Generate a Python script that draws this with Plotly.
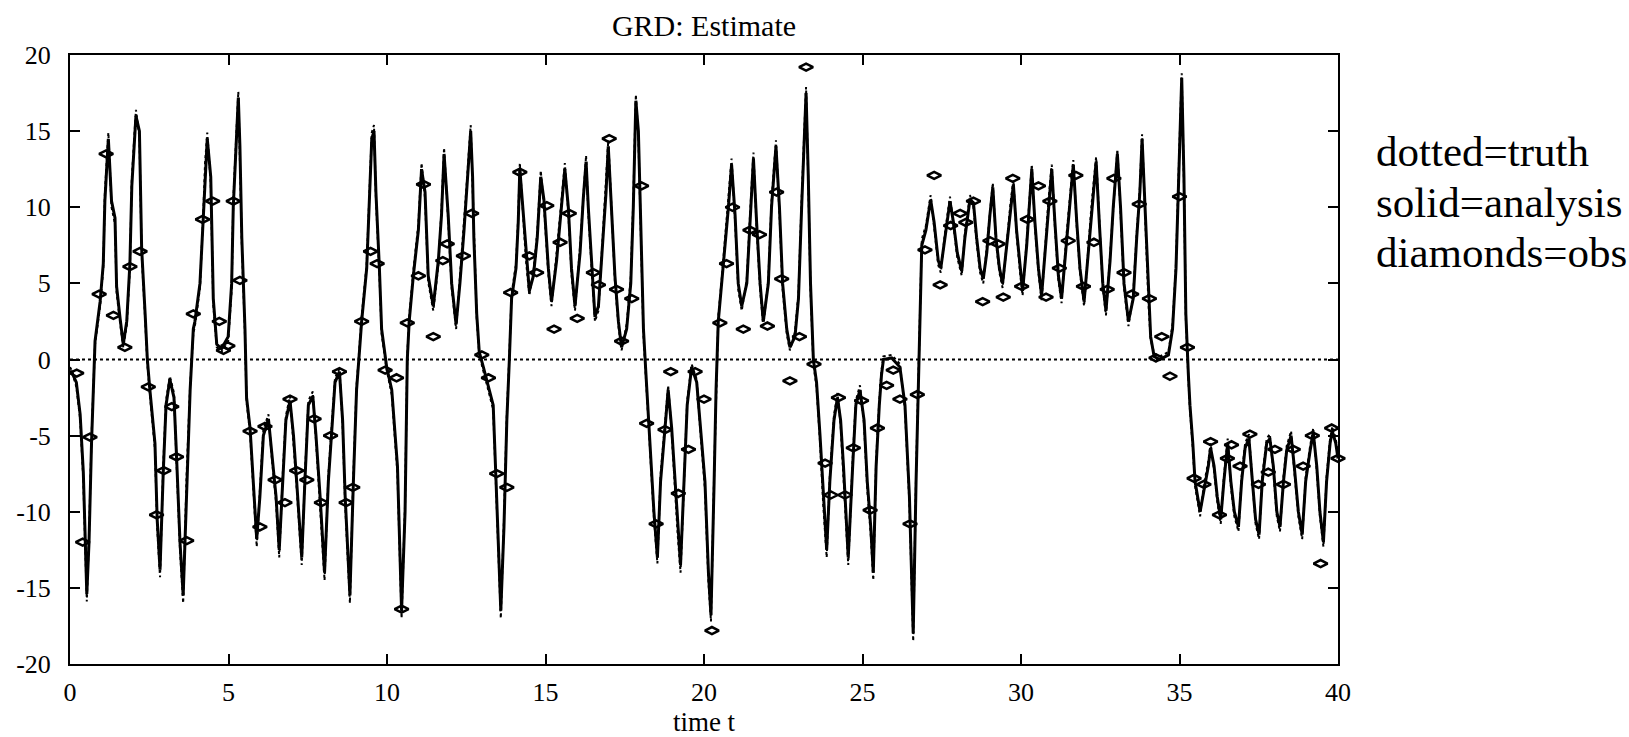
import plotly.graph_objects as go

# Time grid of the analysis / truth trajectories (x-component)
time_t = [
    0.00, 0.05, 0.20, 0.32, 0.42, 0.47, 0.53, 0.60, 0.68, 0.79,
    0.95, 1.05, 1.10, 1.21, 1.31, 1.42, 1.47, 1.58, 1.68, 1.79,
    1.89, 1.95, 2.08, 2.19, 2.26, 2.37, 2.44, 2.52, 2.68, 2.75,
    2.84, 2.94, 3.03, 3.15, 3.28, 3.36, 3.47, 3.57, 3.68, 3.79,
    3.89, 3.94, 4.10, 4.21, 4.26, 4.33, 4.44, 4.52, 4.63, 4.78,
    4.99, 5.10, 5.15, 5.31, 5.36, 5.42, 5.52, 5.57, 5.68, 5.78,
    5.89, 5.99, 6.10, 6.26, 6.36, 6.50, 6.60, 6.71, 6.81, 6.94,
    7.05, 7.15, 7.31, 7.41, 7.52, 7.66, 7.76, 7.89, 8.03, 8.15,
    8.25, 8.36, 8.50, 8.60, 8.68, 8.83, 8.94, 9.04, 9.13, 9.20,
    9.36, 9.44, 9.52, 9.59, 9.65, 9.76, 9.83, 9.99, 10.15, 10.33,
    10.41, 10.46, 10.57, 10.64, 10.70, 10.83, 10.99, 11.09, 11.20, 11.30,
    11.46, 11.62, 11.72, 11.80, 11.93, 12.04, 12.18, 12.30, 12.43, 12.51,
    12.64, 12.70, 12.74, 12.83, 12.91, 13.04, 13.23, 13.35, 13.44, 13.51,
    13.59, 13.69, 13.78, 13.86, 13.93, 14.07, 14.14, 14.19, 14.28, 14.38,
    14.49, 14.62, 14.74, 14.85, 14.95, 15.09, 15.19, 15.35, 15.48, 15.61,
    15.72, 15.82, 15.93, 16.09, 16.19, 16.28, 16.35, 16.46, 16.56, 16.67,
    16.80, 16.91, 16.98, 17.09, 17.19, 17.30, 17.40, 17.56, 17.69, 17.77,
    17.85, 17.93, 18.00, 18.09, 18.17, 18.24, 18.32, 18.42, 18.53, 18.63,
    18.77, 18.87, 18.98, 19.08, 19.17, 19.26, 19.37, 19.47, 19.61, 19.77,
    19.87, 20.03, 20.14, 20.22, 20.32, 20.38, 20.45, 20.56, 20.66, 20.77,
    20.87, 20.98, 21.08, 21.19, 21.35, 21.45, 21.56, 21.66, 21.77, 21.87,
    22.03, 22.13, 22.27, 22.38, 22.48, 22.61, 22.71, 22.87, 22.98, 23.08,
    23.22, 23.29, 23.36, 23.45, 23.55, 23.66, 23.76, 23.87, 23.97, 24.10,
    24.21, 24.31, 24.40, 24.55, 24.69, 24.79, 24.92, 25.05, 25.15, 25.26,
    25.34, 25.43, 25.53, 25.60, 25.66, 25.92, 26.18, 26.34, 26.48, 26.55,
    26.60, 26.69, 26.76, 26.81, 26.87, 27.00, 27.15, 27.26, 27.39, 27.47,
    27.60, 27.76, 27.87, 27.99, 28.13, 28.23, 28.39, 28.50, 28.60, 28.71,
    28.81, 28.92, 29.02, 29.11, 29.21, 29.32, 29.42, 29.55, 29.67, 29.76,
    29.86, 29.97, 30.05, 30.18, 30.26, 30.34, 30.44, 30.55, 30.65, 30.76,
    30.86, 30.97, 31.07, 31.18, 31.28, 31.42, 31.52, 31.65, 31.76, 31.86,
    31.99, 32.12, 32.23, 32.37, 32.47, 32.58, 32.68, 32.81, 32.91, 33.04,
    33.14, 33.25, 33.39, 33.54, 33.65, 33.75, 33.82, 33.91, 34.02, 34.09,
    34.20, 34.38, 34.65, 34.78, 34.89, 34.96, 35.07, 35.14, 35.20, 35.28,
    35.33, 35.42, 35.49, 35.65, 35.77, 35.91, 35.98, 36.09, 36.19, 36.30,
    36.40, 36.52, 36.62, 36.73, 36.86, 36.96, 37.07, 37.19, 37.30, 37.40,
    37.51, 37.61, 37.75, 37.85, 37.96, 38.07, 38.17, 38.28, 38.38, 38.52,
    38.62, 38.75, 38.87, 38.98, 39.12, 39.22, 39.33, 39.43, 39.54, 39.64,
    39.75, 39.82, 39.93, 40.00,
]

# Analysis estimate (solid)
analysis_x = [
    -0.8, -0.8, -1.5, -3.6, -7.4, -11.7, -15.4, -12.0, -5.4, 1.2,
    3.8, 6.3, 10.4, 14.5, 10.4, 9.3, 4.8, 2.7, 1.0, 2.5,
    6.3, 11.4, 16.0, 15.0, 7.3, 3.0, 0.0, -2.0, -5.5, -10.5,
    -13.8, -7.5, -3.0, -1.3, -2.5, -6.3, -12.0, -15.5, -8.0, -2.0,
    2.0, 2.5, 5.0, 9.5, 12.5, 14.5, 12.0, 4.0, 1.0, 0.7,
    1.5, 5.0, 10.0, 17.2, 14.0, 8.0, 2.0, -2.5, -4.5, -8.0,
    -11.8, -9.0, -5.0, -3.9, -6.0, -9.0, -12.5, -8.0, -4.0, -2.7,
    -5.0, -8.0, -13.0, -8.0, -3.0, -2.4, -5.0, -9.0, -14.0, -8.0,
    -5.0, -1.5, -0.8, -4.0, -9.0, -15.5, -8.0, -2.0, 0.5, 2.5,
    6.0, 10.0, 14.5, 15.0, 11.0, 6.0, 2.0, -0.5, -2.0, -7.0,
    -12.0, -16.5, -10.0, 0.0, 2.5, 5.5, 8.5, 12.5, 11.0, 5.5,
    3.5, 6.5, 9.5, 13.5, 9.5, 5.0, 2.3, 5.0, 8.5, 11.0,
    15.0, 12.0, 8.0, 3.0, 0.5, -0.5, -2.0, -3.0, -8.0, -12.0,
    -16.5, -11.0, -4.0, 0.0, 4.0, 6.0, 9.0, 12.5, 10.0, 7.0,
    4.5, 5.5, 8.0, 12.0, 10.5, 6.0, 3.8, 6.5, 9.5, 12.5,
    10.0, 6.0, 3.5, 7.0, 10.5, 13.0, 10.0, 6.0, 2.8, 3.5,
    7.5, 11.0, 14.0, 10.0, 5.5, 2.5, 0.8, 2.0, 5.0, 10.0,
    17.0, 15.0, 9.0, 2.0, -1.0, -3.5, -7.0, -10.0, -13.0, -8.0,
    -4.5, -2.0, -4.5, -8.0, -11.0, -13.5, -8.0, -3.0, -0.5, -1.5,
    -4.0, -8.0, -14.0, -16.8, -8.0, -2.0, 2.5, 5.0, 7.5, 10.0,
    12.8, 9.5, 5.0, 3.5, 5.0, 9.0, 13.2, 9.0, 5.0, 2.5,
    5.0, 10.0, 14.0, 10.0, 5.0, 2.0, 0.8, 1.5, 4.0, 10.0,
    17.5, 12.0, 5.0, 0.0, -1.5, -5.0, -9.0, -12.5, -8.0, -4.0,
    -2.5, -4.0, -7.0, -13.0, -7.0, -3.0, -2.0, -4.0, -8.0, -11.0,
    -14.0, -7.0, -3.0, -1.0, 0.0, 0.1, -0.5, -3.0, -9.0, -14.0,
    -18.0, -8.0, -2.0, 2.0, 7.5, 8.5, 10.5, 9.0, 6.5, 6.0,
    8.0, 10.4, 9.0, 7.0, 5.8, 8.0, 10.5, 10.3, 8.0, 6.0,
    5.3, 7.0, 9.5, 11.3, 8.0, 6.0, 5.0, 7.5, 10.0, 11.5,
    8.5, 6.0, 4.5, 7.5, 10.0, 12.5, 9.0, 6.0, 4.2, 7.0,
    10.0, 12.5, 9.0, 5.5, 4.0, 7.5, 10.0, 12.8, 9.0, 6.0,
    3.8, 7.0, 10.0, 13.0, 9.0, 5.0, 3.2, 6.5, 10.0, 13.5,
    10.0, 5.0, 2.5, 4.0, 8.0, 11.0, 14.5, 10.0, 4.0, 1.5,
    0.2, 0.0, 0.3, 2.0, 6.0, 11.0, 18.5, 12.0, 3.0, -1.0,
    -3.0, -5.5, -8.0, -10.0, -8.5, -7.0, -5.8, -7.0, -9.0, -10.5,
    -8.0, -5.5, -8.0, -10.0, -11.0, -8.0, -5.8, -5.2, -8.0, -10.5,
    -11.5, -8.0, -5.5, -5.2, -7.0, -10.0, -11.0, -8.0, -6.0, -5.0,
    -7.0, -10.0, -11.5, -8.0, -6.0, -4.8, -7.0, -10.0, -12.0, -8.0,
    -5.5, -4.7, -5.5, -6.5,
]

# True trajectory (dotted)
truth_x = [
    -0.5, -0.7, -1.8, -3.9, -7.9, -12.3, -15.9, -11.6, -5.0, 1.0,
    3.5, 6.0, 10.9, 14.9, 10.0, 8.9, 4.4, 2.4, 0.8, 2.2,
    6.0, 11.9, 16.4, 14.6, 6.9, 2.7, -0.3, -2.3, -5.9, -11.0,
    -14.3, -7.0, -2.7, -1.1, -2.2, -6.7, -12.5, -16.0, -7.5, -1.7,
    1.7, 2.2, 4.7, 9.9, 12.9, 14.9, 11.6, 3.6, 0.8, 0.5,
    1.2, 4.6, 10.4, 17.6, 13.6, 7.6, 1.6, -2.8, -4.8, -8.4,
    -12.3, -8.6, -4.6, -3.6, -6.3, -9.4, -13.0, -7.6, -3.7, -2.4,
    -5.3, -8.4, -13.5, -7.6, -2.7, -2.1, -5.3, -9.4, -14.5, -7.6,
    -4.7, -1.2, -0.6, -4.3, -9.5, -16.0, -7.5, -1.7, 0.8, 2.8,
    6.3, 10.4, 14.9, 15.4, 10.6, 5.6, 1.7, -0.7, -2.3, -7.5,
    -12.5, -17.0, -9.5, 0.3, 2.8, 5.8, 8.9, 12.9, 10.6, 5.1,
    3.2, 6.2, 9.9, 13.9, 9.1, 4.7, 2.0, 5.3, 8.9, 11.4,
    15.4, 11.6, 7.6, 2.7, 0.3, -0.7, -2.3, -3.3, -8.5, -12.5,
    -17.0, -10.5, -3.6, 0.3, 4.3, 6.3, 9.4, 12.9, 9.6, 6.6,
    4.2, 5.8, 8.4, 12.4, 10.1, 5.6, 3.5, 6.8, 9.9, 12.9,
    9.6, 5.6, 3.2, 7.4, 10.9, 13.4, 9.6, 5.6, 2.5, 3.2,
    7.9, 11.4, 14.4, 9.6, 5.1, 2.2, 0.6, 2.3, 5.4, 10.5,
    17.4, 14.6, 8.6, 1.6, -1.3, -3.8, -7.4, -10.4, -13.4, -7.6,
    -4.2, -1.7, -4.8, -8.4, -11.5, -14.0, -7.6, -2.7, -0.3, -1.3,
    -4.3, -8.5, -14.6, -17.2, -7.5, -1.7, 2.8, 5.3, 7.9, 10.4,
    13.2, 9.1, 4.6, 3.2, 5.3, 9.4, 13.6, 8.6, 4.6, 2.2,
    5.3, 10.4, 14.4, 9.6, 4.6, 1.7, 0.6, 1.8, 4.4, 10.5,
    17.9, 11.6, 4.6, -0.3, -1.8, -5.4, -9.5, -13.0, -7.6, -3.7,
    -2.2, -4.3, -7.5, -13.5, -6.6, -2.7, -1.7, -4.3, -8.5, -11.5,
    -14.5, -6.6, -2.7, -0.7, 0.2, 0.3, -0.3, -3.3, -9.5, -14.6,
    -18.5, -7.5, -1.6, 2.4, 7.9, 8.8, 10.8, 8.7, 6.2, 5.7,
    8.3, 10.7, 8.7, 6.7, 5.5, 8.3, 10.8, 10.0, 7.7, 5.7,
    5.0, 7.3, 9.8, 11.6, 7.7, 5.7, 4.7, 7.8, 10.3, 11.8,
    8.2, 5.7, 4.2, 7.8, 10.3, 12.8, 8.7, 5.7, 3.9, 7.3,
    10.3, 12.8, 8.7, 5.2, 3.7, 7.8, 10.3, 13.1, 8.7, 5.7,
    3.5, 7.3, 10.3, 13.3, 8.7, 4.7, 2.9, 6.8, 10.3, 13.8,
    9.7, 4.7, 2.2, 4.3, 8.3, 11.3, 14.8, 9.7, 3.7, 1.3,
    0.4, 0.2, 0.5, 2.3, 6.3, 11.4, 18.8, 11.6, 2.7, -1.3,
    -3.3, -5.8, -8.3, -10.3, -8.2, -6.7, -5.5, -7.3, -9.3, -10.8,
    -7.7, -5.2, -8.3, -10.3, -11.3, -7.7, -5.5, -4.9, -8.3, -10.8,
    -11.8, -7.7, -5.2, -4.9, -7.3, -10.3, -11.3, -7.7, -5.7, -4.7,
    -7.3, -10.3, -11.8, -7.7, -5.7, -4.5, -7.3, -10.3, -12.3, -7.7,
    -5.2, -4.4, -5.2, -6.3,
]

# Noisy observations (diamonds)
obs_t = [
    0.21, 0.40, 0.63, 0.92, 1.14, 1.37, 1.73, 1.89, 2.21, 2.47,
    2.73, 2.96, 3.21, 3.36, 3.68, 3.89, 4.18, 4.50, 4.71, 4.84,
    4.98, 5.15, 5.36, 5.68, 5.99, 6.15, 6.47, 6.78, 6.94, 7.15,
    7.47, 7.70, 7.93, 8.22, 8.50, 8.71, 8.92, 9.20, 9.48, 9.69,
    9.94, 10.30, 10.46, 10.64, 10.99, 11.15, 11.46, 11.76, 11.90, 12.41,
    12.67, 12.99, 13.20, 13.46, 13.78, 13.90, 14.19, 14.49, 14.72, 15.04,
    15.27, 15.46, 15.75, 16.00, 16.51, 16.67, 17.01, 17.24, 17.40, 17.72,
    18.03, 18.19, 18.49, 18.77, 18.95, 19.19, 19.51, 19.72, 20.00, 20.25,
    20.50, 20.71, 20.90, 21.24, 21.45, 21.75, 22.00, 22.29, 22.45, 22.71,
    23.01, 23.22, 23.47, 23.82, 24.00, 24.24, 24.45, 24.71, 24.97, 25.24,
    25.47, 25.76, 25.97, 26.18, 26.50, 26.73, 26.97, 27.26, 27.45, 27.78,
    28.08, 28.26, 28.50, 28.79, 29.02, 29.28, 29.44, 29.74, 30.02, 30.20,
    30.55, 30.79, 30.91, 31.21, 31.49, 31.73, 31.97, 32.30, 32.72, 32.93,
    33.25, 33.49, 33.73, 34.05, 34.26, 34.44, 34.70, 35.00, 35.25, 35.46,
    35.77, 35.98, 36.26, 36.51, 36.64, 36.91, 37.22, 37.49, 37.80, 38.01,
    38.28, 38.59, 38.90, 39.19, 39.45, 39.80, 40.00,
]
obs_x = [
    -0.9, -12.0, -5.1, 4.3, 13.5, 2.9, 0.8, 6.1, 7.1, -1.8,
    -10.2, -7.3, -3.1, -6.4, -11.9, 3.0, 9.2, 10.4, 2.5, 0.6,
    0.9, 10.4, 5.2, -4.7, -11.0, -4.4, -7.9, -9.4, -2.6, -7.3,
    -7.9, -3.9, -9.4, -5.0, -0.8, -9.4, -8.4, 2.5, 7.1, 6.3,
    -0.7, -1.2, -16.4, 2.4, 5.5, 11.5, 1.5, 6.5, 7.6, 6.8,
    9.6, 0.3, -1.2, -7.5, -8.4, 4.4, 12.3, 6.8, 5.7, 10.1,
    2.0, 7.7, 9.6, 2.7, 5.7, 4.9, 14.5, 4.6, 1.2, 4.0,
    11.4, -4.2, -10.8, -4.6, -0.8, -8.8, -5.9, -0.8, -2.6, -17.8,
    2.4, 6.3, 10.0, 2.0, 8.5, 8.2, 2.2, 11.0, 5.3, -1.4,
    1.5, 19.2, -0.3, -6.8, -8.9, -2.5, -8.9, -5.8, -2.7, -9.9,
    -4.5, -1.7, -0.7, -2.6, -10.8, -2.3, 7.2, 12.1, 4.9, 8.8,
    9.6, 9.0, 10.4, 3.8, 7.8, 7.6, 4.1, 11.9, 4.8, 9.2,
    11.4, 4.1, 10.4, 6.0, 7.8, 12.1, 4.8, 7.7, 4.6, 11.9,
    5.7, 4.3, 10.2, 4.0, 0.1, 1.5, -1.1, 10.7, 0.8, -7.8,
    -8.2, -5.4, -10.2, -6.5, -5.6, -7.0, -4.9, -8.2, -7.4, -5.9,
    -8.2, -5.9, -7.0, -5.0, -13.4, -4.5, -6.5,
]

x_ticks = [0, 5, 10, 15, 20, 25, 30, 35, 40]
y_ticks = [-20, -15, -10, -5, 0, 5, 10, 15, 20]
legend_lines = ["dotted=truth", "solid=analysis", "diamonds=obs"]

SERIF = "Liberation Serif"

fig = go.Figure()

# zero reference line
fig.add_trace(go.Scatter(
    x=[x_ticks[0], x_ticks[-1]], y=[0, 0], mode="lines",
    line=dict(color="black", width=2, dash="dot"),
    hoverinfo="skip", showlegend=False,
))

fig.add_trace(go.Scatter(
    x=time_t, y=truth_x, mode="lines",
    line=dict(color="black", width=2, dash="dot"),
    name="truth", showlegend=False,
))

fig.add_trace(go.Scatter(
    x=time_t, y=analysis_x, mode="lines",
    line=dict(color="black", width=3),
    name="analysis", showlegend=False,
))

fig.add_trace(go.Scatter(
    x=obs_t, y=obs_x, mode="markers",
    marker=dict(symbol="diamond-wide-open", size=10, color="black",
                line=dict(color="black", width=2.5)),
    name="obs", showlegend=False, cliponaxis=False,
))

for i, txt in enumerate(legend_lines):
    fig.add_annotation(
        xref="paper", yref="paper", x=1.028, y=0.842 - i * 0.0835,
        xanchor="left", yanchor="middle", showarrow=False,
        text=txt, font=dict(family=SERIF, size=43, color="black"),
    )

axis_common = dict(
    showline=True, linecolor="black", linewidth=2, mirror="ticks",
    ticks="inside", ticklen=10, tickwidth=2, tickcolor="black",
    showgrid=False, zeroline=False,
    tickfont=dict(family=SERIF, size=26, color="black"),
)

fig.update_xaxes(
    range=[0, 40], tickmode="array", tickvals=x_ticks,
    ticktext=[str(v) for v in x_ticks], ticklabelstandoff=4,
    title=dict(text="time t", font=dict(family=SERIF, size=27, color="black"),
               standoff=0),
    **axis_common,
)
fig.update_yaxes(
    range=[-20, 20], tickmode="array", tickvals=y_ticks,
    ticktext=[str(v) for v in y_ticks], ticklabelstandoff=12,
    **axis_common,
)

fig.update_layout(
    width=1629, height=737,
    margin=dict(l=70, r=291, t=55, b=73),
    paper_bgcolor="white", plot_bgcolor="white",
    title=dict(text="GRD: Estimate", x=(70 + 1338) / 2 / 1629, xanchor="center",
               y=1 - 25 / 737, yanchor="middle",
               font=dict(family=SERIF, size=30, color="black")),
)

fig.write_html("out.html")
